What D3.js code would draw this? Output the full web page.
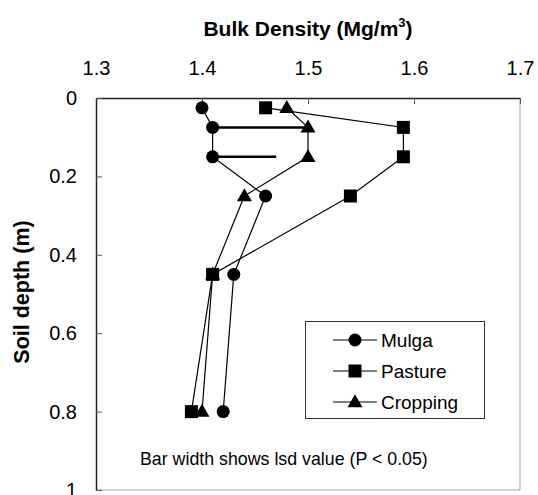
<!DOCTYPE html>
<html>
<head>
<meta charset="utf-8">
<script src="https://cdn.jsdelivr.net/npm/d3@7"></script>
<style>
  body { margin: 0; background: #fff; }
  svg { display: block; font-family: Arial, "Liberation Sans", sans-serif; }
</style>
</head>
<body>
<svg id="chart" width="538" height="495"></svg>
<script>
const depths = [0.025, 0.075, 0.15, 0.25, 0.45, 0.8];
const mulga = [1.40, 1.41, 1.41, 1.46, 1.43, 1.42];
const pasture = [1.46, 1.59, 1.59, 1.54, 1.41, 1.39];
const cropping = [1.48, 1.50, 1.50, 1.44, 1.41, 1.40];
const seriesNames = ["Mulga", "Pasture", "Cropping"];
const seriesShapes = ["circle", "square", "triangle"];
const lsdDepths = [0.075, 0.15];
const lsdStart = [1.41, 1.41];
const lsdWidth = [0.09, 0.06];
const xTicks = [1.3, 1.4, 1.5, 1.6, 1.7];
const yTicks = [0, 0.2, 0.4, 0.6, 0.8, 1];

const FONT = "Arial, 'Liberation Sans', sans-serif";
const svg = d3.select("#chart");
const pL = 96, pR = 520, pT = 98, pB = 490;
const x = d3.scaleLinear().domain([1.3, 1.7]).range([pL, pR]);
const y = d3.scaleLinear().domain([0, 1]).range([pT, pB]);

// plot frame (light right/bottom)
svg.append("line").attr("x1", pR).attr("x2", pR).attr("y1", pT).attr("y2", pB)
  .attr("stroke", "#a0a0a0").attr("stroke-width", 1);
svg.append("line").attr("x1", pL).attr("x2", pR).attr("y1", pB).attr("y2", pB)
  .attr("stroke", "#a0a0a0").attr("stroke-width", 1);

// top axis
const xAxis = d3.axisTop(x).tickValues(xTicks).tickFormat(d3.format(".1f")).tickSizeInner(-6).tickSizeOuter(0).tickPadding(23);
const gx = svg.append("g").attr("transform", `translate(0,${pT})`).call(xAxis);
gx.select(".domain").attr("stroke", "#222").attr("stroke-width", 1.5);
gx.selectAll(".tick line").attr("stroke", "#555");
gx.selectAll(".tick text").attr("font-size", 20).attr("fill", "#000").attr("font-family", FONT);

// left axis
const yAxis = d3.axisLeft(y).tickValues(yTicks).tickFormat(d => d === 0 ? "0" : (d === 1 ? "1" : d3.format(".1f")(d))).tickSizeInner(-6).tickSizeOuter(0).tickPadding(19);
const gy = svg.append("g").attr("transform", `translate(${pL},0)`).call(yAxis);
gy.select(".domain").attr("stroke", "#222").attr("stroke-width", 1.5);
gy.selectAll(".tick line").attr("stroke", "#555");
gy.selectAll(".tick text").attr("font-size", 20).attr("fill", "#000").attr("font-family", FONT);

// titles
const tt = svg.append("text").attr("x", 308).attr("y", 36).attr("text-anchor", "middle")
  .attr("font-size", 21).attr("font-weight", "bold").text("Bulk Density (Mg/m");
tt.append("tspan").attr("font-size", 13).attr("dy", -9).text("3");
tt.append("tspan").attr("dy", 9).text(")");

svg.append("text").attr("transform", `translate(29,292) rotate(-90)`)
  .attr("text-anchor", "middle").attr("font-size", 21.5).attr("font-weight", "bold").text("Soil depth (m)");

// lsd bars
lsdDepths.forEach((d, i) => {
  svg.append("line").attr("x1", x(lsdStart[i])).attr("x2", x(lsdStart[i] + lsdWidth[i]))
    .attr("y1", y(d)).attr("y2", y(d)).attr("stroke", "#000").attr("stroke-width", 2.5);
});

const allSeries = [mulga, pasture, cropping];
const line = d3.line().x(d => x(d[0])).y(d => y(d[1]));

function drawMarker(g, shape, cx, cy) {
  if (shape === "circle") {
    g.append("circle").attr("cx", cx).attr("cy", cy).attr("r", 6.5).attr("fill", "#000");
  } else if (shape === "square") {
    g.append("rect").attr("x", cx - 6.5).attr("y", cy - 6.5).attr("width", 13).attr("height", 13).attr("fill", "#000");
  } else {
    const s = 15, h = 13;
    g.append("path").attr("d", `M${cx},${cy - h*0.6}L${cx + s/2},${cy + h*0.4}L${cx - s/2},${cy + h*0.4}Z`).attr("fill", "#000");
  }
}

allSeries.forEach((vals, si) => {
  const pts = vals.map((v, i) => [v, depths[i]]);
  svg.append("path").attr("d", line(pts)).attr("fill", "none").attr("stroke", "#000").attr("stroke-width", 1.2);
});
// markers: cropping first, then mulga, then pasture on top
[2, 0, 1].forEach(si => {
  const g = svg.append("g");
  allSeries[si].forEach((v, i) => drawMarker(g, seriesShapes[si], x(v), y(depths[i])));
});

// legend
const lg = svg.append("g");
lg.append("rect").attr("x", 305.5).attr("y", 321.5).attr("width", 179).attr("height", 97)
  .attr("fill", "#fff").attr("stroke", "#333").attr("stroke-width", 1);
seriesNames.forEach((name, i) => {
  const cy = 340 + i * 31;
  lg.append("line").attr("x1", 333).attr("x2", 377).attr("y1", cy).attr("y2", cy).attr("stroke", "#000").attr("stroke-width", 1.2);
  drawMarker(lg, seriesShapes[i], 355, cy);
  lg.append("text").attr("x", 381).attr("y", cy + 6.7).attr("font-size", 19).text(name);
});

// footnote
svg.append("text").attr("x", 140).attr("y", 465).attr("font-size", 17.8).text("Bar width shows lsd value (P < 0.05)");
</script>
</body>
</html>
